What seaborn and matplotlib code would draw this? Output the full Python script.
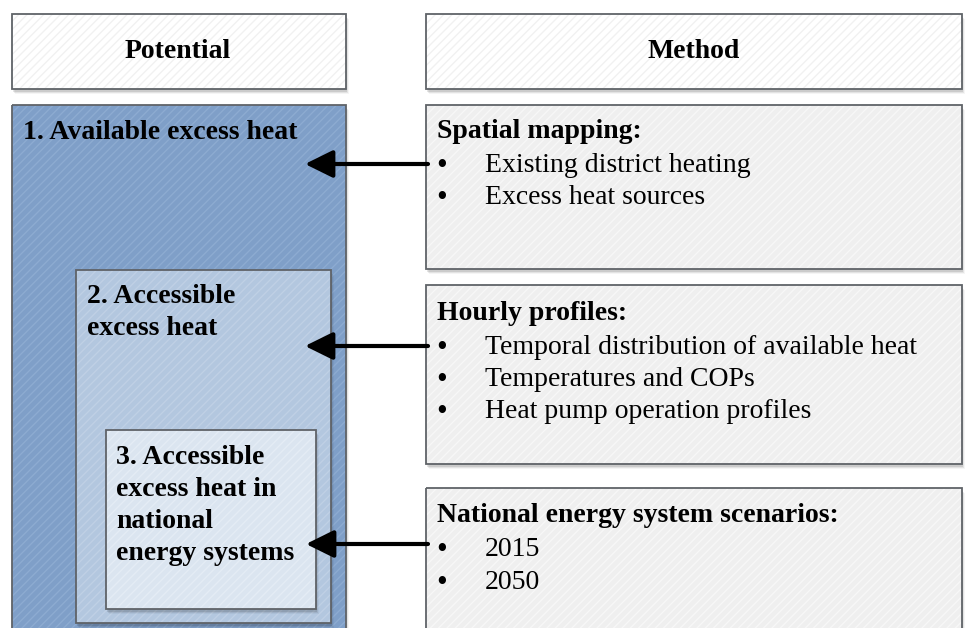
import matplotlib
matplotlib.use("Agg")
import matplotlib.pyplot as plt
import matplotlib.patches as mpatches
import seaborn as sns

sns.set_theme(style="white")
plt.rcParams['font.family'] = ['Liberation Serif', 'DejaVu Serif']
plt.rcParams['hatch.linewidth'] = 1.0
plt.rcParams['text.color'] = 'black'

# ---- content ----
column_titles = ["Potential", "Method"]
potential_labels = [["1. Available excess heat"],
                    ["2. Accessible", "excess heat"],
                    ["3. Accessible", "excess heat in", "national", "energy systems"]]
method_titles = ["Spatial mapping:", "Hourly profiles:", "National energy system scenarios:"]
method_items = [["Existing district heating", "Excess heat sources"],
                ["Temporal distribution of available heat", "Temperatures and COPs",
                 "Heat pump operation profiles"],
                ["2015", "2050"]]

W, H = 967, 628
fig = plt.figure(figsize=(W / 100, H / 100), dpi=100)
ax = fig.add_axes([0, 0, 1, 1])
ax.set_xlim(0, W)
ax.set_ylim(H, 0)
ax.axis("off")

FS = 20


def box(x0, y0, x1, y1, face, hatchcol, z, shadow=True):
    if shadow:
        for i, a in enumerate([0.10, 0.07, 0.04]):
            ax.add_patch(mpatches.Rectangle((x0 + 1 + i, y0 + 3 + i), x1 - x0, y1 - y0,
                                            facecolor="black", edgecolor="none",
                                            alpha=a, zorder=z - 0.5))
    ax.add_patch(mpatches.Rectangle((x0, y0), x1 - x0, y1 - y0, facecolor=face,
                                    edgecolor="none", zorder=z))
    ax.add_patch(mpatches.Rectangle((x0, y0), x1 - x0, y1 - y0, facecolor="none",
                                    edgecolor=hatchcol, hatch="////", linewidth=0, zorder=z + 0.1))
    ax.add_patch(mpatches.Rectangle((x0, y0), x1 - x0, y1 - y0, facecolor="none",
                                    edgecolor="#5f6368", linewidth=1.3, zorder=z + 0.2))


# header boxes
box(12, 14, 346, 89, "#ffffff", "#f1f1f1", 2)
box(426, 14, 962, 89, "#ffffff", "#f1f1f1", 2)
ax.text(178, 58, column_titles[0], ha="center", va="baseline", fontsize=FS,
        fontweight="bold", zorder=10)
ax.text(694, 58, column_titles[1], ha="center", va="baseline", fontsize=FS,
        fontweight="bold", zorder=10)

# potential nested boxes
box(12, 105, 346, 640, "#7f9fc8", "#8dabd1", 2)
box(76, 270, 331, 623, "#b3c7df", "#bfd0e5", 4)
box(106, 430, 316, 609, "#dbe5f0", "#e4ecf5", 6)

pot_x = [23, 87, 116]
pot_y0 = [139, 303, 464]
for x, y0, lines in zip(pot_x, pot_y0, potential_labels):
    for k, line in enumerate(lines):
        ax.text(x, y0 + 32 * k, line, ha="left", va="baseline", fontsize=FS,
                fontweight="bold", zorder=10)

# method boxes
mboxes = [(105, 269), (285, 464), (488, 640)]
for (y0, y1) in mboxes:
    box(426, y0, 962, y1, "#efefef", "#f7f7f7", 2)

title_y = [138, 320, 522]
item_y = [[172, 204], [354, 386, 418], [556, 589]]
for ty, iy, title, items in zip(title_y, item_y, method_titles, method_items):
    ax.text(437, ty, title, ha="left", va="baseline", fontsize=FS, fontweight="bold",
            zorder=10)
    for yy, it in zip(iy, items):
        ax.text(442, yy + 2, "\u2022", ha="center", va="baseline", fontsize=22, zorder=10)
        ax.text(485, yy, it, ha="left", va="baseline", fontsize=FS, zorder=10)

# arrows
arrows = [(164, 305), (346, 305), (544, 306)]
for y, xt in arrows:
    ax.annotate("", xy=(xt, y), xytext=(428, y),
                arrowprops=dict(arrowstyle="-|>,head_length=0.85,head_width=0.42",
                                mutation_scale=20, color="black", lw=3.0,
                                shrinkA=0, shrinkB=0),
                zorder=12)

fig.savefig("out.png", dpi=100)
